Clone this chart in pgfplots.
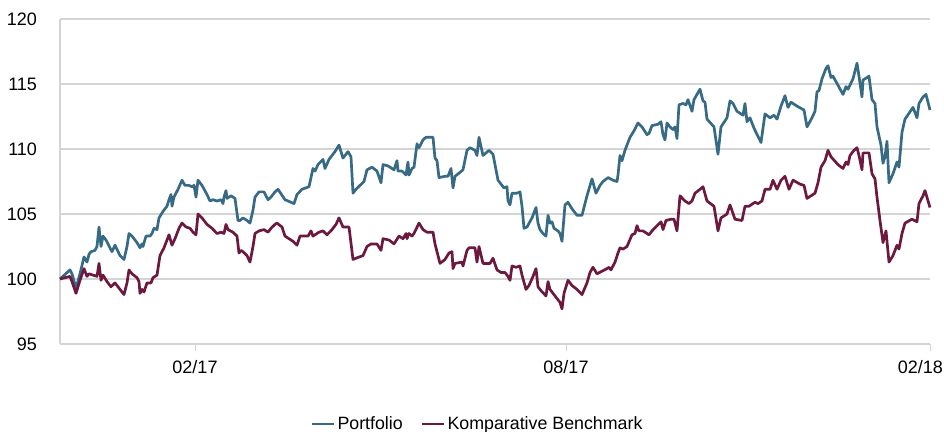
\documentclass[border=0pt]{standalone}
\usepackage{fontspec}
\setmainfont{Liberation Sans}
\usepackage{pgfplots}
\pgfplotsset{compat=1.18}
\definecolor{pfblue}{RGB}{55,106,133}
\definecolor{bmred}{RGB}{109,24,63}
\definecolor{gridgray}{RGB}{212,212,212}
\begin{document}
\begin{tikzpicture}
\begin{axis}[
  scale only axis,
  width=870bp, height=325bp,
  xmin=60, xmax=930, ymin=95, ymax=120,
  xtick={195,566,930}, xticklabels={02/17,08/17,\makebox[0pt][r]{02/18\hspace*{-13bp}}},
  ytick={95,100,...,120},
  axis x line*=bottom, axis y line*=left,
  axis line style={draw=gridgray, line width=1.2bp, -},
  ymajorgrids, grid style={draw=gridgray, line width=1.2bp},
  major x tick style={draw=gridgray, line width=1bp},
  major y tick style={draw=none},
  tick align=outside, major tick length=7bp,
  /pgf/number format/assume math mode=true,
  tick label style={font=\fontsize{18bp}{21bp}\selectfont, text=black},
  yticklabel style={xshift=-12.5bp},
  xticklabel style={yshift=-6bp},
  legend style={at={(0.48,-0.246)}, anchor=center, draw=none, fill=none,
    font=\fontsize{17.8bp}{21bp}\selectfont, legend columns=2,
    /tikz/every even column/.append style={column sep=16bp}},
  legend image code/.code={\draw[#1, line width=2.8bp] (0bp,0bp) -- (22bp,0bp);},
  clip=false,
]
\addplot[pfblue, line width=2.7bp, line join=round] coordinates {
(60,100.0) (70,100.7) (72,100.4) (76,99.3) (80,100.4) (84,101.7) (87,101.3) (89,101.9) (91,102.1) (95,102.2) (97,102.5) (99,104.0) (101,102.5) (103,103.3) (106,103.0) (110,102.4) (112,102.1) (115,102.6) (120,101.8) (124,101.5) (127,102.5) (129,103.5) (132,103.3) (137,102.8) (140,102.4) (142,102.7) (143,102.5) (146,103.3) (150,103.3) (152,103.5) (154,103.9) (157,103.8) (159,104.7) (163,105.2) (167,105.6) (169,106.1) (171,106.5) (172,105.6) (174,106.3) (178,106.9) (182,107.6) (185,107.2) (189,107.2) (192,107.1) (194,107.2) (196,106.3) (198,107.6) (202,107.2) (207,106.5) (210,106.0) (213,106.1) (217,106.0) (221,106.1) (223,105.8) (224,106.3) (226,106.8) (227,106.2) (231,106.4) (235,106.2) (238,104.5) (240,104.5) (243,104.7) (247,104.5) (250,104.3) (253,105.3) (255,106.3) (259,106.7) (264,106.7) (268,106.1) (271,106.3) (275,106.7)
(278,106.9) (285,106.1) (294,105.8) (297,106.5) (302,106.9) (309,107.1) (313,108.5) (315,108.3) (318,108.8) (323,109.2) (325,108.5) (329,109.2) (335,109.8) (339,110.3) (343,109.3) (348,109.8) (351,109.4) (353,106.6) (356,106.9) (360,107.2) (364,107.5) (367,108.4) (372,108.6) (377,108.3) (381,107.4) (383,108.8) (388,108.7) (394,108.4) (397,109.1) (398,108.3) (402,108.3) (406,108.0) (408,109.0) (409,108.0) (412,108.5) (414,108.6) (417,110.4) (419,110.1) (423,110.7) (426,110.9) (433,110.9) (435,109.3) (437,109.1) (439,107.8) (445,107.9) (448,107.9) (451,108.5) (453,107.0) (455,107.9) (460,108.2) (463,108.4) (467,109.9) (470,110.1) (475,109.9) (477,109.5) (479,110.9) (483,109.5)
(489,109.9) (493,109.6) (498,107.6) (502,107.2) (504,107.0) (507,107.1) (508,106.0) (510,105.7) (512,106.6) (517,106.6) (520,106.7) (522,105.6) (524,103.9) (527,104.0) (532,104.7) (536,105.5) (538,104.3) (540,103.8) (543,103.5) (546,103.3) (548,104.9) (550,104.3) (552,104.4) (554,103.9) (558,103.7) (560,103.5) (562,102.9) (565,105.7) (568,105.9) (572,105.4) (577,104.9) (582,104.9) (587,106.4) (592,107.7) (596,106.6) (600,107.2) (603,107.5) (608,107.8) (613,107.6) (617,107.5) (618,108.0) (620,109.5) (622,109.1) (625,109.9) (630,110.9) (634,111.4) (638,112.0) (642,111.7) (647,111.1) (649,111.2) (652,111.8) (658,111.9) (661,112.1) (663,111.1) (665,110.7) (667,112.0) (670,111.7) (673,111.5) (675,111.7) (677,110.8) (679,113.4) (683,113.5) (686,113.4) (688,113.8) (692,112.9) (694,113.8) (700,114.6)
(703,113.7) (705,113.6) (707,112.3) (714,111.7) (718,109.6) (721,111.7) (727,112.4) (730,113.7) (733,113.5) (737,112.9) (743,112.6) (745,113.5) (747,112.1) (750,112.4) (754,111.6) (761,110.5) (765,112.7) (770,112.4) (774,112.6) (777,112.3) (781,113.3) (785,114.1) (788,113.2) (791,113.6) (797,113.3) (804,113.0) (807,111.7) (812,112.4) (815,112.9) (817,114.4) (819,114.5) (822,115.4) (826,116.2) (828,116.4) (831,115.5) (833,115.6) (838,114.9) (843,114.2) (846,114.8) (848,114.6) (853,115.4) (857,116.6) (859,115.6) (862,114.0) (863,115.3) (869,115.6) (872,113.8) (875,113.5) (877,111.7) (881,110.3) (883,108.9) (885,109.4) (887,110.6) (889,107.4) (893,108.1) (897,109.0) (899,108.6) (902,111.3) (905,112.3) (913,113.2) (917,112.4) (919,113.5) (923,114.0) (926,114.2) (930,113.0)
};
\addlegendentry{Portfolio}
\addplot[bmred, line width=2.7bp, line join=round] coordinates {
(60,100.0) (70,100.2) (72,99.8) (76,98.9) (80,99.9) (84,100.8) (87,100.2) (89,100.4) (93,100.3) (97,100.2) (99,101.2) (101,99.9) (103,100.3) (107,99.8) (111,99.4) (115,99.7) (120,99.2) (124,98.8) (127,99.7) (129,100.7) (132,100.4) (137,100.1) (139,99.8) (140,98.9) (142,99.2) (144,99.0) (147,99.7) (151,99.7) (153,100.1) (157,100.3) (160,101.8) (164,102.4) (169,103.4) (172,102.6) (175,103.1) (179,103.9) (182,104.3) (186,104.0) (190,103.9) (193,103.6) (196,103.4) (198,105.0) (202,104.7) (207,104.2) (212,103.9) (217,103.5) (221,103.6) (224,103.5) (226,104.2) (228,103.8) (233,103.6) (237,103.3) (239,102.0) (241,102.2) (243,102.1) (247,101.8) (250,101.3) (253,102.5) (255,103.5) (259,103.7) (264,103.8) (268,103.6) (271,103.9) (275,104.2)
(277,104.3) (282,104.0) (285,103.3) (293,102.9) (297,102.6) (300,103.3) (308,103.3) (311,103.7) (313,103.3) (319,103.6) (323,103.7) (327,103.4) (332,103.8) (336,104.2) (339,104.7) (343,104.0) (349,104.0) (353,101.5) (356,101.6) (363,101.8) (367,102.5) (371,102.7) (377,102.7) (381,102.2) (383,103.1) (389,103.0) (394,102.7) (399,103.3) (403,103.1) (406,103.5) (407,103.1) (409,103.5) (412,103.3) (414,103.5) (419,104.3) (423,103.8) (427,103.6) (433,103.6) (435,102.7) (437,102.1) (440,101.2) (445,101.5) (449,102.0) (452,102.1) (453,100.8) (455,101.2) (462,101.3) (463,101.0) (467,102.2) (469,102.4) (475,102.4) (477,101.3) (479,102.5) (483,101.2)
(485,101.2) (490,101.2) (493,101.6) (497,100.7) (501,100.5) (505,100.5) (508,100.2) (510,99.9) (512,101.0) (516,100.9) (520,101.0) (522,100.3) (526,99.2) (529,99.5) (533,100.2) (536,100.8) (538,99.4) (541,99.1) (546,98.7) (548,99.8) (550,99.2) (553,98.9) (557,98.5) (560,98.2) (562,97.7) (564,98.9) (568,99.9) (572,99.5) (577,99.2) (582,98.8) (587,99.7) (590,100.5) (593,100.9) (597,100.4) (602,100.6) (607,100.8) (609,100.9) (611,100.7) (615,101.3) (618,102.0) (620,102.4) (623,102.3) (627,102.5) (632,103.4) (635,103.5) (637,104.1) (639,103.7) (643,103.7) (649,103.4) (652,103.7) (657,104.1) (661,104.4) (663,103.8) (666,104.5) (671,104.6) (674,104.6) (677,103.7) (680,106.4) (685,106.0) (689,105.8) (692,106.0) (695,106.6) (700,106.9)
(703,107.1) (707,106.0) (714,105.6) (718,103.7) (721,104.7) (727,105.0) (730,105.7) (735,104.6) (742,104.5) (745,105.6) (749,105.6) (755,105.9) (758,105.8) (762,106.0) (765,106.9) (770,106.9) (773,107.6) (777,106.9) (781,107.6) (785,107.9) (789,106.9) (793,107.6) (800,107.3) (804,107.2) (807,106.2) (815,106.6) (818,107.4) (821,108.6) (825,109.1) (828,109.9) (831,109.4) (838,108.8) (843,108.5) (846,109.0) (848,108.8) (850,109.5) (854,109.9) (857,110.1) (859,109.5) (862,108.4) (863,109.7) (869,109.7) (872,108.1) (875,107.7) (877,106.3) (880,104.5) (883,102.8) (886,103.7) (889,101.3) (893,101.8) (897,102.6) (899,102.3) (902,103.5) (905,104.3) (912,104.6) (917,104.4) (919,105.8) (923,106.4) (925,106.8) (930,105.5)
};
\addlegendentry{Komparative Benchmark}
\end{axis}
\pgfresetboundingbox
\path[use as bounding box] (current axis.south west) ++(-60bp,-88bp) rectangle ++(944bp,432bp);
\end{tikzpicture}
\end{document}
